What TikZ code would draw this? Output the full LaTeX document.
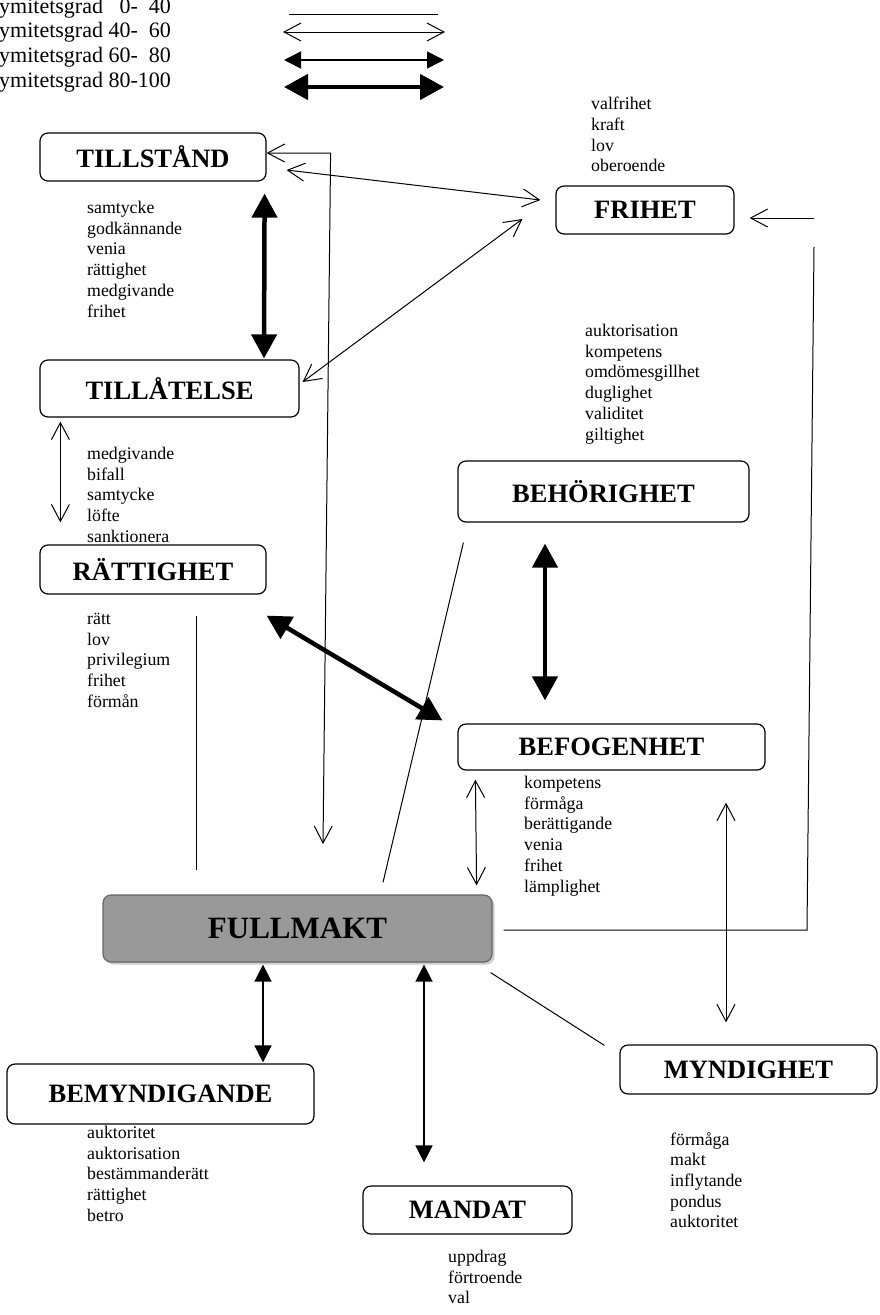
\documentclass[tikz,border=0pt]{standalone}
\usepackage{fontspec}
\setmainfont{Liberation Serif}
\usetikzlibrary{arrows.meta, shadows}

\begin{document}
\begin{tikzpicture}[
x=1pt, y=-1pt,
box/.style={
draw,
rectangle,
rounded corners=8pt,
line width=1.2pt,
inner sep=0pt,
align=center,
font=\fontsize{26.5}{30}\selectfont\bfseries
},
mainbox/.style={
box,
draw=black!60,
fill=black!40,
font=\fontsize{31}{36}\selectfont\bfseries,
drop shadow={shadow xshift=2.5pt, shadow yshift=-2.5pt, fill=black!20, opacity=1}
},
wordlist/.style={anchor=north west, align=left, inner sep=0pt, font=\fontsize{17.8}{20.7}\selectfont},
legendtext/.style={anchor=base west, inner sep=0pt, font=\fontsize{22}{25}\selectfont},
plainline/.style={line width=1pt},
openarrow/.style={line width=1pt, arrows={Straight Barb[length=17pt,width=18pt]-Straight Barb[length=17pt,width=18pt]}},
openhead/.style={line width=1pt, arrows={-Straight Barb[length=17pt,width=18pt]}},
filledarrow/.style={line width=1.5pt, arrows={Triangle[length=17pt,width=17pt]-Triangle[length=17pt,width=17pt]}},
thickarrow/.style={line width=4.5pt, arrows={Triangle[length=24pt,width=25pt]-Triangle[length=24pt,width=25pt]}}
]
\useasboundingbox (0,0) rectangle (879,1315);

\node[legendtext] (deg0) at (-1,13) {ymitetsgrad \phantom{4}0-\phantom{1}40};
\node[legendtext] (deg40) at (-1,37) {ymitetsgrad 40-\phantom{1}60};
\node[legendtext] (deg60) at (-1,62) {ymitetsgrad 60-\phantom{1}80};
\node[legendtext] (deg80) at (-1,87) {ymitetsgrad 80-100};
\foreach \y/\kind/\xa/\xb in {14/plainline/289/438, 32/openarrow/283/445, 60/filledarrow/284/444, 87/thickarrow/284/444}
\draw[\kind] (\xa,\y) -- (\xb,\y);

\node[box, minimum width=226pt, minimum height=48pt] (tillstand) at (153,157) {TILLSTÅND};
\node[box, minimum width=259pt, minimum height=57pt] (tillatelse) at (169.5,388.5) {TILLÅTELSE};
\node[box, minimum width=226pt, minimum height=49pt] (rattighet) at (153,569.5) {RÄTTIGHET};
\node[box, minimum width=178pt, minimum height=48pt] (frihet) at (645,210) {FRIHET};
\node[box, minimum width=291pt, minimum height=61pt] (behorighet) at (603.5,491.5) {BEHÖRIGHET};
\node[box, minimum width=307pt, minimum height=46pt] (befogenhet) at (611.5,747) {BEFOGENHET};
\node[mainbox, minimum width=389pt, minimum height=67pt] (fullmakt) at (297.5,928.5) {FULLMAKT};
\node[box, minimum width=307pt, minimum height=60pt] (bemyndigande) at (160.5,1094) {BEMYNDIGANDE};
\node[box, minimum width=209pt, minimum height=48pt] (mandat) at (467.5,1210) {MANDAT};
\node[box, minimum width=257pt, minimum height=49pt] (myndighet) at (748.5,1069.5) {MYNDIGHET};

\node[wordlist] (frihetwords) at (591,97) {valfrihet\\kraft\\lov\\oberoende};
\node[wordlist] (tillstandwords) at (87,201) {samtycke\\godkännande\\venia\\rättighet\\medgivande\\frihet};
\node[wordlist] (tillatelsewords) at (87,447) {medgivande\\bifall\\samtycke\\löfte\\sanktionera};
\node[wordlist] (rattighetwords) at (87,613) {rätt\\lov\\privilegium\\frihet\\förmån};
\node[wordlist] (behorighetwords) at (585,324) {auktorisation\\kompetens\\omdömesgillhet\\duglighet\\validitet\\giltighet};
\node[wordlist] (befogenhetwords) at (524,776) {kompetens\\förmåga\\berättigande\\venia\\frihet\\lämplighet};
\node[wordlist] (bemyndigandewords) at (87,1126) {auktoritet\\auktorisation\\bestämmanderätt\\rättighet\\betro};
\node[wordlist] (mandatwords) at (448,1250) {uppdrag\\förtroende\\val};
\node[wordlist] (myndighetwords) at (670,1132) {förmåga\\makt\\inflytande\\pondus\\auktoritet};

\coordinate (fullmaktdrop) at (323,844);
\coordinate (frihettail) at (814,218);
\coordinate (rightlinetop) at (814,247);
\coordinate (rightcorner) at (807,930);

\draw[openarrow] ([yshift=4pt]tillstand.east) -- ++(64,0) -- (fullmaktdrop);
\draw[openarrow] ([xshift=20pt,yshift=-13pt]tillstand.east) -- ([xshift=-15pt,yshift=10pt]frihet.west);
\draw[openarrow] ([xshift=3pt,yshift=6.5pt]tillatelse.east) -- ([xshift=-33pt,yshift=-9pt]frihet.west);
\draw[thickarrow] ([xshift=-2pt,yshift=-12pt]tillstand.south east) -- ([xshift=94.5pt,yshift=1pt]tillatelse.north);
\draw[openarrow] ([xshift=21pt,yshift=-4pt]tillatelse.south west) -- ([xshift=21pt,yshift=22pt]rattighet.north west);
\draw[plainline] ([xshift=43pt,yshift=-21pt]rattighet.south) -- ([xshift=-101.5pt,yshift=24pt]fullmakt.north);
\draw[thickarrow] ([yshift=-21pt]rattighet.south east) -- ([xshift=-15pt,yshift=3pt]befogenhet.north west);
\draw[thickarrow] ([xshift=-58.5pt,yshift=-21pt]behorighet.south) -- ([xshift=-66.5pt,yshift=23pt]befogenhet.north);
\draw[plainline] ([xshift=6pt,yshift=-20pt]behorighet.south west) -- ([xshift=85.5pt,yshift=12pt]fullmakt.north);
\draw[openarrow] ([xshift=18pt,yshift=-9pt]befogenhet.south west) -- ([xshift=-16pt,yshift=9pt]fullmakt.north east);
\draw[openhead] (frihettail) -- ([xshift=15pt,yshift=-8pt]frihet.east);
\draw[plainline] (rightlinetop) -- (rightcorner) -- ([xshift=11pt,yshift=-1.5pt]fullmakt.east);
\draw[openarrow] ([xshift=114.5pt,yshift=-32pt]befogenhet.south) -- ([xshift=-22.5pt,yshift=22pt]myndighet.north);
\draw[filledarrow] ([xshift=-34.5pt,yshift=-2pt]fullmakt.south) -- ([xshift=102.5pt,yshift=1pt]bemyndigande.north);
\draw[filledarrow] ([xshift=126.5pt,yshift=-2pt]fullmakt.south) -- ([xshift=-43.5pt,yshift=23pt]mandat.north);
\draw[plainline] ([xshift=-2pt,yshift=-10pt]fullmakt.south east) -- ([xshift=-15pt,yshift=-1pt]myndighet.north west);
\end{tikzpicture}
\end{document}
